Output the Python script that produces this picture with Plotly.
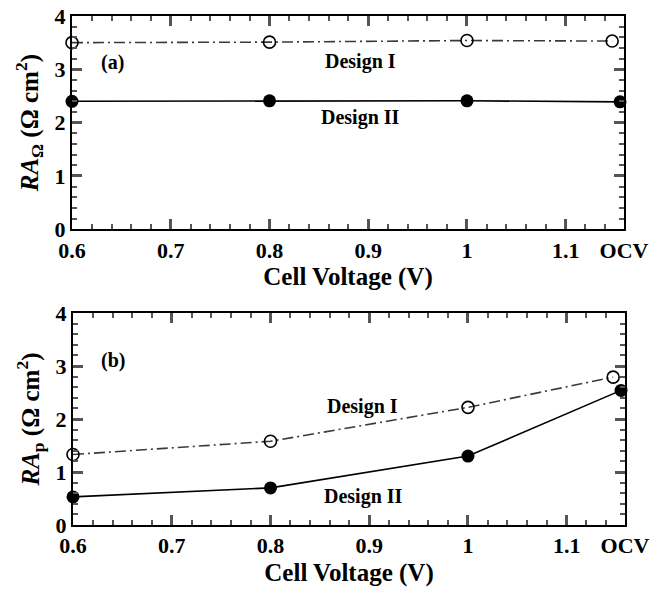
import plotly.graph_objects as go

# ---- data ----
x_labels_vals = [0.6, 0.7, 0.8, 0.9, 1.0, 1.1, 1.159]
x_labels_text = ["0.6", "0.7", "0.8", "0.9", "1", "1.1", "OCV"]
y_ticks = [0, 1, 2, 3, 4]

x_design1 = [0.6, 0.8, 1.0, 1.147]
x_design2 = [0.6, 0.8, 1.0, 1.155]

ra_ohm_design1 = [3.50, 3.51, 3.54, 3.53]
ra_ohm_design2 = [2.40, 2.41, 2.41, 2.39]

ra_p_design1 = [1.33, 1.58, 2.22, 2.79]
ra_p_design2 = [0.53, 0.70, 1.30, 2.54]

FONT = "Liberation Serif, Times New Roman, Times, DejaVu Serif, serif"
BLACK = "#000000"
GRAY = "#3a3a3a"

fig = go.Figure()

def add_pair(xa, ya, y1, y2):
    fig.add_trace(go.Scatter(
        x=x_design1, y=y1, mode="lines+markers", xaxis=xa, yaxis=ya,
        line=dict(color=GRAY, width=1.6, dash="11px,4px,2px,4px"),
        marker=dict(symbol="circle-open", size=12, color=BLACK, line=dict(width=1.6)),
        cliponaxis=False, showlegend=False, name="Design I"))
    fig.add_trace(go.Scatter(
        x=x_design2, y=y2, mode="lines+markers", xaxis=xa, yaxis=ya,
        line=dict(color=BLACK, width=1.6),
        marker=dict(symbol="circle", size=13, color=BLACK),
        cliponaxis=False, showlegend=False, name="Design II"))

add_pair("x", "y", ra_ohm_design1, ra_ohm_design2)
add_pair("x2", "y2", ra_p_design1, ra_p_design2)

tickfont = dict(family=FONT, size=22, color=BLACK)
titlefont = dict(family=FONT, size=25, color=BLACK)

MAJ_LEN, MAJ_W = 10, 2.5
MIN_LEN, MIN_W = 5, 1.5
TICK_COLOR = "#555555"

def xaxis_cfg(domain, anchor):
    return dict(
        domain=domain, anchor=anchor, range=[0.6, 1.159],
        tickmode="array", tickvals=x_labels_vals,
        ticktext=[f"<b>{t}</b>" for t in x_labels_text],
        ticks="inside", ticklen=MAJ_LEN, tickwidth=MAJ_W, tickcolor=TICK_COLOR,
        minor=dict(tick0=0.6, dtick=0.02, ticks="inside",
                   ticklen=MIN_LEN, tickwidth=MIN_W, tickcolor=TICK_COLOR),
        showline=True, linewidth=2, linecolor=BLACK, mirror="ticks",
        showgrid=False, zeroline=False, tickfont=tickfont,
        title=dict(text="<b>Cell Voltage (V)</b>", font=titlefont, standoff=6),
        automargin=False)

def yaxis_cfg(domain, anchor, title):
    return dict(
        domain=domain, anchor=anchor, range=[0, 4],
        tickmode="array", tickvals=y_ticks, ticktext=[f"<b>{v}</b>" for v in y_ticks],
        ticks="inside", ticklen=MAJ_LEN, tickwidth=MAJ_W, tickcolor=TICK_COLOR,
        minor=dict(tick0=0, dtick=0.2, ticks="inside",
                   ticklen=MIN_LEN, tickwidth=MIN_W, tickcolor=TICK_COLOR),
        showline=True, linewidth=2, linecolor=BLACK, mirror="ticks",
        showgrid=False, zeroline=False, tickfont=tickfont,
        title=dict(text=title, font=titlefont, standoff=9),
        automargin=False)

fig.update_layout(
    width=667, height=593,
    margin=dict(l=0, r=0, t=0, b=0),
    paper_bgcolor="white", plot_bgcolor="white",
    font=dict(family=FONT, color=BLACK),
    xaxis=xaxis_cfg([72/667, 624/667], "y"),
    yaxis=yaxis_cfg([1 - 229.3/593, 1 - 16/593], "x",
                    "<b><i>RA</i><sub>Ω</sub> (Ω cm<sup>2</sup>)</b>"),
    xaxis2=xaxis_cfg([73/667, 625/667], "y2"),
    yaxis2=yaxis_cfg([1 - 525/593, 1 - 313/593], "x2",
                     "<b><i>RA</i><sub>p</sub> (Ω cm<sup>2</sup>)</b>"),
)

ann_font = dict(family=FONT, size=20, color=BLACK)
annotations = [
    ("x", "y", 0.641, 3.12, "(a)"),
    ("x", "y", 0.892, 3.14, "Design I"),
    ("x", "y", 0.892, 2.09, "Design II"),
    ("x2", "y2", 0.641, 3.11, "(b)"),
    ("x2", "y2", 0.893, 2.23, "Design I"),
    ("x2", "y2", 0.894, 0.53, "Design II"),
]
for xr, yr, ax, ay, txt in annotations:
    fig.add_annotation(x=ax, y=ay, xref=xr, yref=yr, text=f"<b>{txt}</b>",
                       showarrow=False, font=ann_font, xanchor="center", yanchor="middle")

fig.write_html("out.html")
